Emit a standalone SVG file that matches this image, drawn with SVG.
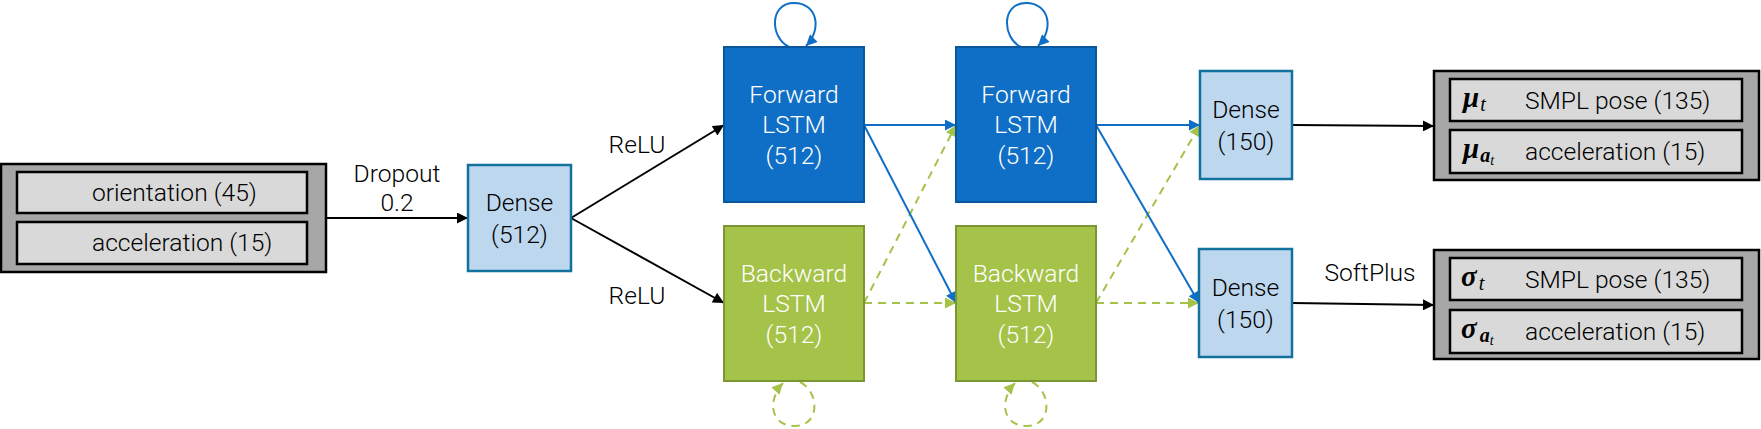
<svg xmlns="http://www.w3.org/2000/svg" width="1761" height="429" viewBox="0 0 1761 429">
<style>
text{font-family:Roboto,"Liberation Sans",sans-serif;font-weight:300;font-size:24.6px;fill:#000}
.c{text-anchor:middle}
.w{fill:#fff}
.outer{fill:#a6a6a6;stroke:#000;stroke-width:2.5}
.inner{fill:#d9d9d9;stroke:#000;stroke-width:2.5}
.dense{fill:#bdd7ee;stroke:#13719e;stroke-width:2.5}
.fwd{fill:#0f6fc6;stroke:#0b579c;stroke-width:2}
.bwd{fill:#a5c249;stroke:#7b9632;stroke-width:2}
.k{stroke:#000;stroke-width:2;fill:none}
.b{stroke:#0f6fc6;stroke-width:2;fill:none}
.g{stroke:#a5c249;stroke-width:2;fill:none;stroke-dasharray:8 6}
.m{font-family:"Liberation Serif","DejaVu Serif",serif;font-style:italic;font-weight:bold;font-size:29px}
.s{font-family:"Liberation Serif","DejaVu Serif",serif;font-style:italic;font-weight:normal}
</style>
<defs>
<marker id="ak" viewBox="0 0 10 10" refX="10" refY="5" markerWidth="13" markerHeight="11" markerUnits="userSpaceOnUse" orient="auto"><path d="M0,0 L10,5 L0,10 z" fill="#000"/></marker>
<marker id="ab" viewBox="0 0 10 10" refX="10" refY="5" markerWidth="13" markerHeight="11" markerUnits="userSpaceOnUse" orient="auto"><path d="M0,0 L10,5 L0,10 z" fill="#0f6fc6"/></marker>
<marker id="ag" viewBox="0 0 10 10" refX="10" refY="5" markerWidth="13" markerHeight="11" markerUnits="userSpaceOnUse" orient="auto"><path d="M0,0 L10,5 L0,10 z" fill="#a5c249"/></marker>
</defs>

<g id="connectors">
<line class="k" x1="326" y1="218" x2="468" y2="218" marker-end="url(#ak)"/>
<line class="k" x1="571" y1="218" x2="724" y2="125" marker-end="url(#ak)"/>
<line class="k" x1="571" y1="218" x2="724" y2="303" marker-end="url(#ak)"/>
<line class="g" x1="864" y1="303" x2="956" y2="125" marker-end="url(#ag)"/>
<line class="g" x1="864" y1="303" x2="956" y2="303" marker-end="url(#ag)"/>
<line class="b" x1="864" y1="125" x2="956" y2="125" marker-end="url(#ab)"/>
<line class="b" x1="864" y1="125" x2="956" y2="303" marker-end="url(#ab)"/>
<line class="g" x1="1096" y1="303" x2="1200" y2="125" marker-end="url(#ag)"/>
<line class="g" x1="1096" y1="303" x2="1199" y2="303" marker-end="url(#ag)"/>
<line class="b" x1="1096" y1="125" x2="1200" y2="125" marker-end="url(#ab)"/>
<line class="b" x1="1096" y1="125" x2="1199" y2="303" marker-end="url(#ab)"/>
<line class="k" x1="1292" y1="125" x2="1434" y2="126" marker-end="url(#ak)"/>
<line class="k" x1="1292" y1="303" x2="1434" y2="305" marker-end="url(#ak)"/>
<path class="b" d="M789,47 C770,38 769,3 794,3 C818,3 822,30 806,46" marker-end="url(#ab)"/>
<path class="b" d="M1021,47 C1002,38 1001,3 1026,3 C1050,3 1054,30 1038,46" marker-end="url(#ab)"/>
<path class="g" d="M800,382 C820,392 820,426 795,426 C770,426 767,400 783,383" marker-end="url(#ag)"/>
<path class="g" d="M1032,382 C1052,392 1052,426 1027,426 C1002,426 999,400 1015,383" marker-end="url(#ag)"/>
<text class="c" x="397" y="182">Dropout</text>
<text class="c" x="397" y="211">0.2</text>
<text class="c" x="637" y="153">ReLU</text>
<text class="c" x="637" y="304">ReLU</text>
<text class="c" x="1370" y="281">SoftPlus</text>
</g>

<g id="input">
<rect class="outer" x="1" y="164" width="325" height="108"/>
<rect class="inner" x="17" y="172" width="290" height="41"/>
<rect class="inner" x="17" y="222" width="290" height="42"/>
<text x="92" y="201">orientation (45)</text>
<text x="92" y="251">acceleration (15)</text>
</g>

<g id="dense512">
<rect class="dense" x="468" y="165" width="103" height="106"/>
<text class="c" x="519.5" y="211">Dense</text>
<text class="c" x="519.5" y="243">(512)</text>
</g>

<g id="forward1">
<rect class="fwd" x="724" y="47" width="140" height="155"/>
<text class="c w" x="794" y="103">Forward</text>
<text class="c w" x="794" y="133">LSTM</text>
<text class="c w" x="794" y="164">(512)</text>
</g>

<g id="backward1">
<rect class="bwd" x="724" y="226" width="140" height="155"/>
<text class="c w" x="794" y="282">Backward</text>
<text class="c w" x="794" y="312">LSTM</text>
<text class="c w" x="794" y="343">(512)</text>
</g>

<g id="forward2">
<rect class="fwd" x="956" y="47" width="140" height="155"/>
<text class="c w" x="1026" y="103">Forward</text>
<text class="c w" x="1026" y="133">LSTM</text>
<text class="c w" x="1026" y="164">(512)</text>
</g>

<g id="backward2">
<rect class="bwd" x="956" y="226" width="140" height="155"/>
<text class="c w" x="1026" y="282">Backward</text>
<text class="c w" x="1026" y="312">LSTM</text>
<text class="c w" x="1026" y="343">(512)</text>
</g>

<g id="dense150a">
<rect class="dense" x="1200" y="71" width="92" height="108"/>
<text class="c" x="1246" y="118">Dense</text>
<text class="c" x="1246" y="150">(150)</text>
</g>

<g id="dense150b">
<rect class="dense" x="1199" y="249" width="93" height="108"/>
<text class="c" x="1245.5" y="296">Dense</text>
<text class="c" x="1245.5" y="328">(150)</text>
</g>

<g id="output_mu">
<rect class="outer" x="1434" y="71" width="325" height="109"/>
<rect class="inner" x="1450" y="79" width="292" height="42"/>
<rect class="inner" x="1450" y="130" width="292" height="43"/>
<text class="m" x="1463" y="107">μ<tspan class="s" font-size="20" dx="1" dy="4">t</tspan></text>
<text x="1525" y="109">SMPL pose (135)</text>
<text class="m" x="1463" y="158">μ<tspan font-size="20" dx="1" dy="4">a</tspan><tspan class="s" font-size="14" dy="3">t</tspan></text>
<text x="1525" y="160">acceleration (15)</text>
</g>

<g id="output_sigma">
<rect class="outer" x="1434" y="250" width="325" height="109"/>
<rect class="inner" x="1450" y="258" width="292" height="42"/>
<rect class="inner" x="1450" y="310" width="292" height="43"/>
<text class="m" x="1461" y="286">σ<tspan class="s" font-size="20" dx="2" dy="4">t</tspan></text>
<text x="1525" y="288">SMPL pose (135)</text>
<text class="m" x="1461" y="338">σ<tspan font-size="20" dx="3" dy="4">a</tspan><tspan class="s" font-size="14" dy="3">t</tspan></text>
<text x="1525" y="340">acceleration (15)</text>
</g>
</svg>
